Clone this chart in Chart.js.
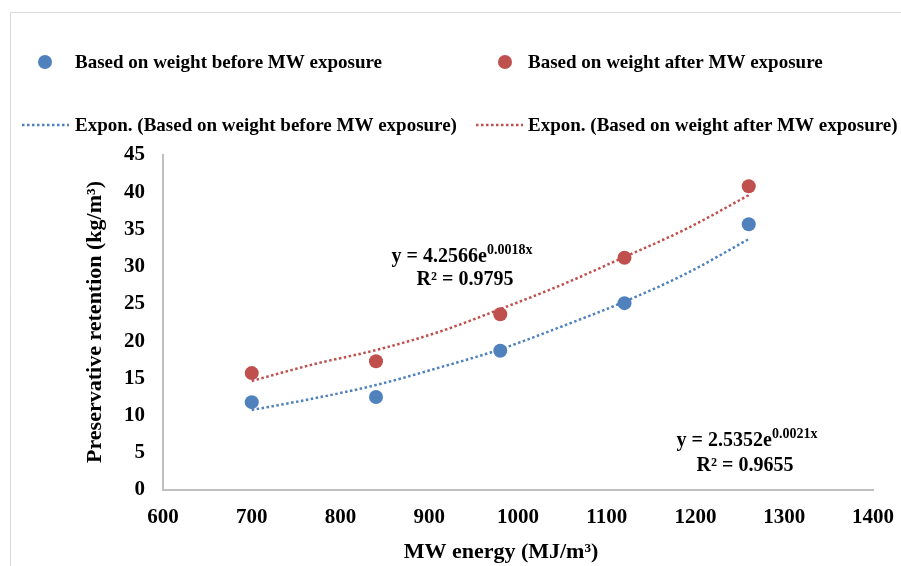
<!DOCTYPE html>
<html>
<head>
<meta charset="utf-8">
<script src="https://cdn.jsdelivr.net/npm/chart.js@4.4.0/dist/chart.umd.min.js"></script>
<style>
    html, body { margin: 0; padding: 0; background: #fff; }
    #wrap { width: 901px; height: 566px; }
</style>
</head>
<body>
<div id="wrap"><canvas id="retentionChart" width="901" height="566"></canvas></div>
<script>
const energy = [700, 840, 980, 1120, 1260];
const beforeMW = [11.8, 12.5, 18.7, 25.1, 35.7];
const afterMW = [15.7, 17.3, 23.6, 31.2, 40.8];

// dotted exponential trend curves
const trendEnergy = [700, 770, 840, 910, 980, 1050, 1120, 1190, 1260];
const trendBefore = [10.75, 12.3, 14.1, 16.4, 18.9, 22.0, 25.3, 29.1, 33.7];
const trendAfter = [14.65, 16.9, 18.8, 21.2, 24.3, 27.6, 31.3, 35.1, 39.6];

const xTicks = [600, 700, 800, 900, 1000, 1100, 1200, 1300, 1400];
const yTicks = [0, 5, 10, 15, 20, 25, 30, 35, 40, 45];

const BLUE = '#4f81bd';
const RED = '#c0504d';
const SERIF = '"Liberation Serif", "Times New Roman", serif';

function toPoints(xs, ys) {
    return xs.map((x, i) => ({ x, y: ys[i] }));
}

function drawEquation(ctx, cx, cy, base, sup) {
    ctx.font = `bold 20px ${SERIF}`;
    const wBase = ctx.measureText(base).width;
    ctx.font = `bold 14px ${SERIF}`;
    const wSup = ctx.measureText(sup).width;
    const left = cx - (wBase + wSup) / 2;
    ctx.textAlign = 'left';
    ctx.font = `bold 20px ${SERIF}`;
    ctx.fillText(base, left, cy);
    ctx.font = `bold 14px ${SERIF}`;
    ctx.fillText(sup, left + wBase, cy - 7);
}

const decorPlugin = {
    id: 'decor',
    beforeDraw(chart) {
        const ctx = chart.ctx;
        ctx.save();
        ctx.fillStyle = '#fff';
        ctx.fillRect(0, 0, chart.width, chart.height);
        ctx.strokeStyle = '#d9d9d9';
        ctx.lineWidth = 1;
        ctx.beginPath();
        ctx.moveTo(10.5, chart.height);
        ctx.lineTo(10.5, 12.5);
        ctx.lineTo(chart.width, 12.5);
        ctx.stroke();
        ctx.restore();
    },
    afterDraw(chart) {
        const ctx = chart.ctx;
        ctx.save();
        ctx.fillStyle = '#000';
        ctx.textBaseline = 'middle';

        // legend
        ctx.font = `bold 19px ${SERIF}`;
        ctx.textAlign = 'left';
        [[45, 75, BLUE, 'Based on weight before MW exposure'],
         [505, 528, RED, 'Based on weight after MW exposure']].forEach(([mx, tx, col, label]) => {
            ctx.fillStyle = col;
            ctx.beginPath();
            ctx.arc(mx, 62, 7, 0, Math.PI * 2);
            ctx.fill();
            ctx.fillStyle = '#000';
            ctx.fillText(label, tx, 63);
        });
        [[22, 69, 75, BLUE, 'Expon. (Based on weight before MW exposure)'],
         [476, 523, 528, RED, 'Expon. (Based on weight after MW exposure)']].forEach(([x1, x2, tx, col, label]) => {
            ctx.strokeStyle = col;
            ctx.lineWidth = 2.5;
            ctx.setLineDash([2.5, 2.5]);
            ctx.beginPath();
            ctx.moveTo(x1, 125);
            ctx.lineTo(x2, 125);
            ctx.stroke();
            ctx.setLineDash([]);
            ctx.fillStyle = '#000';
            ctx.fillText(label, tx, 126);
        });

        // trendline equations
        drawEquation(ctx, 462, 257, 'y = 4.2566e', '0.0018x');
        ctx.font = `bold 20px ${SERIF}`;
        ctx.textAlign = 'center';
        ctx.fillText('R² = 0.9795', 465, 280);
        drawEquation(ctx, 747, 441, 'y = 2.5352e', '0.0021x');
        ctx.font = `bold 20px ${SERIF}`;
        ctx.textAlign = 'center';
        ctx.fillText('R² = 0.9655', 745, 466);

        // axis titles
        ctx.font = `bold 22px ${SERIF}`;
        ctx.textAlign = 'center';
        ctx.fillText('MW energy (MJ/m³)', 501, 552);
        ctx.translate(95, 322);
        ctx.rotate(-Math.PI / 2);
        ctx.fillText('Preservative retention (kg/m³)', 0, 0);
        ctx.restore();
    }
};

function initChart() {
    const ctx = document.getElementById('retentionChart').getContext('2d');
    const tickFont = { family: SERIF, size: 21, weight: 'bold' };

    return new Chart(ctx, {
        type: 'scatter',
        data: {
            datasets: [
                {
                    label: 'Based on weight before MW exposure',
                    data: toPoints(energy, beforeMW),
                    backgroundColor: BLUE,
                    borderWidth: 0,
                    pointRadius: 7,
                    order: 1
                },
                {
                    label: 'Based on weight after MW exposure',
                    data: toPoints(energy, afterMW),
                    backgroundColor: RED,
                    borderWidth: 0,
                    pointRadius: 7,
                    order: 1
                },
                {
                    label: 'Expon. (Based on weight before MW exposure)',
                    data: toPoints(trendEnergy, trendBefore),
                    showLine: true,
                    borderColor: BLUE,
                    borderWidth: 2.5,
                    borderDash: [2.5, 2.5],
                    cubicInterpolationMode: 'monotone',
                    pointRadius: 0,
                    order: 2
                },
                {
                    label: 'Expon. (Based on weight after MW exposure)',
                    data: toPoints(trendEnergy, trendAfter),
                    showLine: true,
                    borderColor: RED,
                    borderWidth: 2.5,
                    borderDash: [2.5, 2.5],
                    cubicInterpolationMode: 'monotone',
                    pointRadius: 0,
                    order: 2
                }
            ]
        },
        options: {
            responsive: false,
            animation: false,
            layout: { padding: { top: 155, right: 28, left: 0, bottom: 0 } },
            plugins: {
                legend: { display: false },
                tooltip: { enabled: false }
            },
            scales: {
                x: {
                    type: 'linear',
                    min: xTicks[0],
                    max: xTicks[xTicks.length - 1],
                    afterBuildTicks: s => { s.ticks = xTicks.map(v => ({ value: v })); },
                    afterFit: s => { s.height = 76; s.paddingLeft = 0; s.paddingRight = 0; },
                    grid: { display: false, drawTicks: false },
                    border: { color: '#bfbfbf', width: 2 },
                    ticks: { color: '#000', font: tickFont, padding: 15, maxRotation: 0, callback: v => String(v) }
                },
                y: {
                    min: yTicks[0],
                    max: yTicks[yTicks.length - 1],
                    afterBuildTicks: s => { s.ticks = yTicks.map(v => ({ value: v })); },
                    afterFit: s => { s.width = 163; s.paddingTop = 0; s.paddingBottom = 0; },
                    grid: { display: false, drawTicks: false },
                    border: { color: '#bfbfbf', width: 2 },
                    ticks: { color: '#000', font: tickFont, padding: 18, callback: v => String(v) }
                }
            }
        },
        plugins: [decorPlugin]
    });
}

document.addEventListener('DOMContentLoaded', initChart);
</script>
</body>
</html>
